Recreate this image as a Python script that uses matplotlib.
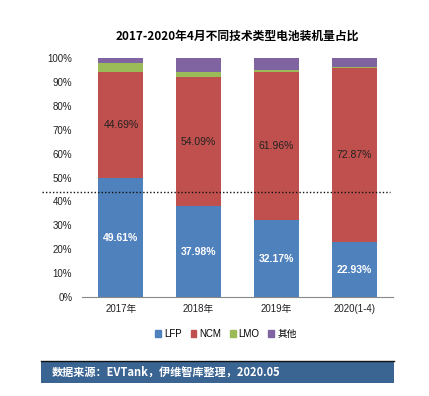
import numpy as np
import matplotlib
matplotlib.use("Agg")
import matplotlib.pyplot as plt
from matplotlib.patches import Rectangle
from matplotlib.lines import Line2D

plt.rcParams['font.family'] = ['Liberation Sans', 'Noto Sans CJK SC', 'DejaVu Sans']

# data
years = ['2017年', '2018年', '2019年', '2020(1-4)']
lfp = [49.61, 37.98, 32.17, 22.93]
ncm = [44.69, 54.09, 61.96, 72.87]
lmo = [3.70, 2.00, 0.80, 0.40]
other = [2.00, 5.93, 5.07, 3.80]
series_names = ['LFP', 'NCM', 'LMO', '其他']
colors = ['#4F81BD', '#C0504D', '#9BBB59', '#8064A2']

fig = plt.figure(figsize=(4.29, 3.96), dpi=100)
ax = fig.add_axes([82/429, 1-297/396, 311/429, 239/396])

x = np.arange(len(years))
w = 0.58
bottom = np.zeros(len(years))
for vals, name, c in zip([lfp, ncm, lmo, other], series_names, colors):
    ax.bar(x, vals, w, bottom=bottom, color=c, label=name)
    bottom += np.array(vals)

# value labels
for i in range(len(years)):
    ax.text(x[i], lfp[i]/2, f"{lfp[i]:.2f}%", ha='center', va='center',
            color='white', fontsize=7.5, fontweight='bold')
    ax.text(x[i], lfp[i] + ncm[i]/2, f"{ncm[i]:.2f}%", ha='center', va='center',
            color='#222222', fontsize=7.5)

ax.set_xlim(-0.5, 3.5)
ax.set_ylim(0, 100)
ax.set_yticks(np.arange(0, 101, 10))
ax.set_yticklabels([f"{v}%" for v in range(0, 101, 10)])
ax.set_xticks(x)
ax.set_xticklabels(years)
ax.tick_params(axis='both', length=0, labelsize=7, colors='#222222')
ax.tick_params(axis='y', pad=7)
ax.tick_params(axis='x', pad=5)
for s in ['top', 'right', 'left']:
    ax.spines[s].set_visible(False)
ax.spines['bottom'].set_color('#888888')

fig.text(237/429, 1-36/396, '2017-2020年4月不同技术类型电池装机量占比',
         ha='center', va='center', fontsize=8.5, fontweight='bold',
         family=['Noto Sans CJK SC', 'DejaVu Sans'])

handles = [Rectangle((0, 0), 1, 1, color=c) for c in colors]
fig.legend(handles, series_names, loc='center', bbox_to_anchor=(226/429, 1-334/396),
           ncol=4, frameon=False, fontsize=7, handlelength=0.6, handleheight=0.6,
           handletextpad=0.3, columnspacing=0.9)

# dotted line across
fig.add_artist(Line2D([42/429, 390/429], [1-191.5/396, 1-191.5/396],
                      color='#111111', lw=1, ls=(0, (1, 1.5))))

# footer bar
fig.add_artist(Rectangle((41/429, 1-383/396), 353/429, 22/396,
                         transform=fig.transFigure, facecolor='#3A6592', edgecolor='none'))
fig.add_artist(Line2D([41/429, 394/429], [1-361/396, 1-361/396], color='#111111', lw=1))
fig.text(52/429, 1-372.5/396, '数据来源：EVTank，伊维智库整理，2020.05',
         ha='left', va='center', color='white', fontsize=8, fontweight='bold',
         family=['Noto Sans CJK SC', 'DejaVu Sans'])

fig.savefig('out.png', dpi=100)
